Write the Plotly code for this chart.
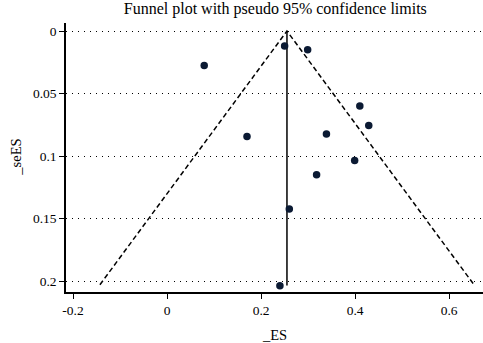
import plotly.graph_objects as go

# Study data
es = [0.250, 0.299, 0.079, 0.410, 0.429, 0.170, 0.339, 0.399, 0.318, 0.260, 0.240]
se_es = [0.012, 0.015, 0.0275, 0.060, 0.0755, 0.0843, 0.0824, 0.1035, 0.115, 0.1424, 0.2037]
pooled_es = 0.255
max_se = 0.2030
x_ticks = [-0.2, 0, 0.2, 0.4, 0.6]
y_ticks = [0, 0.05, 0.1, 0.15, 0.2]

font = "Liberation Serif, Times New Roman, serif"
fig = go.Figure()

# Funnel limits
fig.add_trace(go.Scatter(
    x=[pooled_es - 1.96 * max_se, pooled_es, pooled_es + 1.96 * max_se],
    y=[max_se, 0, max_se], mode="lines",
    line=dict(color="black", width=1.5, dash="5px,3px"), hoverinfo="skip"))
# Pooled effect line
fig.add_trace(go.Scatter(
    x=[pooled_es, pooled_es], y=[0, max_se + 0.0005], mode="lines",
    line=dict(color="black", width=1.5), hoverinfo="skip"))
# Studies
fig.add_trace(go.Scatter(
    x=es, y=se_es, mode="markers",
    marker=dict(color="#0b1a33", size=7.5)))

fig.update_layout(
    width=483, height=343,
    margin=dict(l=66, r=0, t=23, b=51),
    paper_bgcolor="white", plot_bgcolor="white",
    showlegend=False,
    font=dict(family=font, size=13.5, color="black"),
    title=dict(text="Funnel plot with pseudo 95% confidence limits",
               x=0.57, xanchor="center", y=0.977, yanchor="middle",
               font=dict(family=font, size=16, color="black")),
    annotations=[
        dict(text="_ES", xref="paper", yref="paper", x=0.5, y=-0.158,
             xanchor="center", yanchor="middle", showarrow=False,
             font=dict(family=font, size=14.5, color="black")),
        dict(text="_seES", xref="paper", yref="paper", x=-0.122, y=0.5,
             xanchor="center", yanchor="middle", showarrow=False,
             textangle=-90, font=dict(family=font, size=14.5, color="black")),
    ],
)
fig.update_xaxes(
    range=[-0.215, 0.672], tickvals=x_ticks,
    ticktext=["-0.2", "0", "0.2", "0.4", "0.6"],
    showgrid=False, zeroline=False, automargin=False,
    showline=True, linecolor="black", linewidth=1.5,
    ticks="outside", ticklen=5, tickcolor="black",
    tickfont=dict(color="black"),
)
fig.update_yaxes(
    range=[0.2088, -0.0064], tickvals=y_ticks,
    ticktext=["0", "0.05", "0.1", "0.15", "0.2"],
    showgrid=True, gridcolor="black", griddash="1px,5px", gridwidth=1,
    zeroline=False, automargin=False,
    showline=True, linecolor="black", linewidth=1.5,
    ticks="outside", ticklen=5, tickcolor="black",
    tickfont=dict(color="black"),
)

fig.write_html(
    "out.html",
    config={"displayModeBar": False},
    post_script="document.body.style.margin='0';document.body.style.padding='0';",
)
